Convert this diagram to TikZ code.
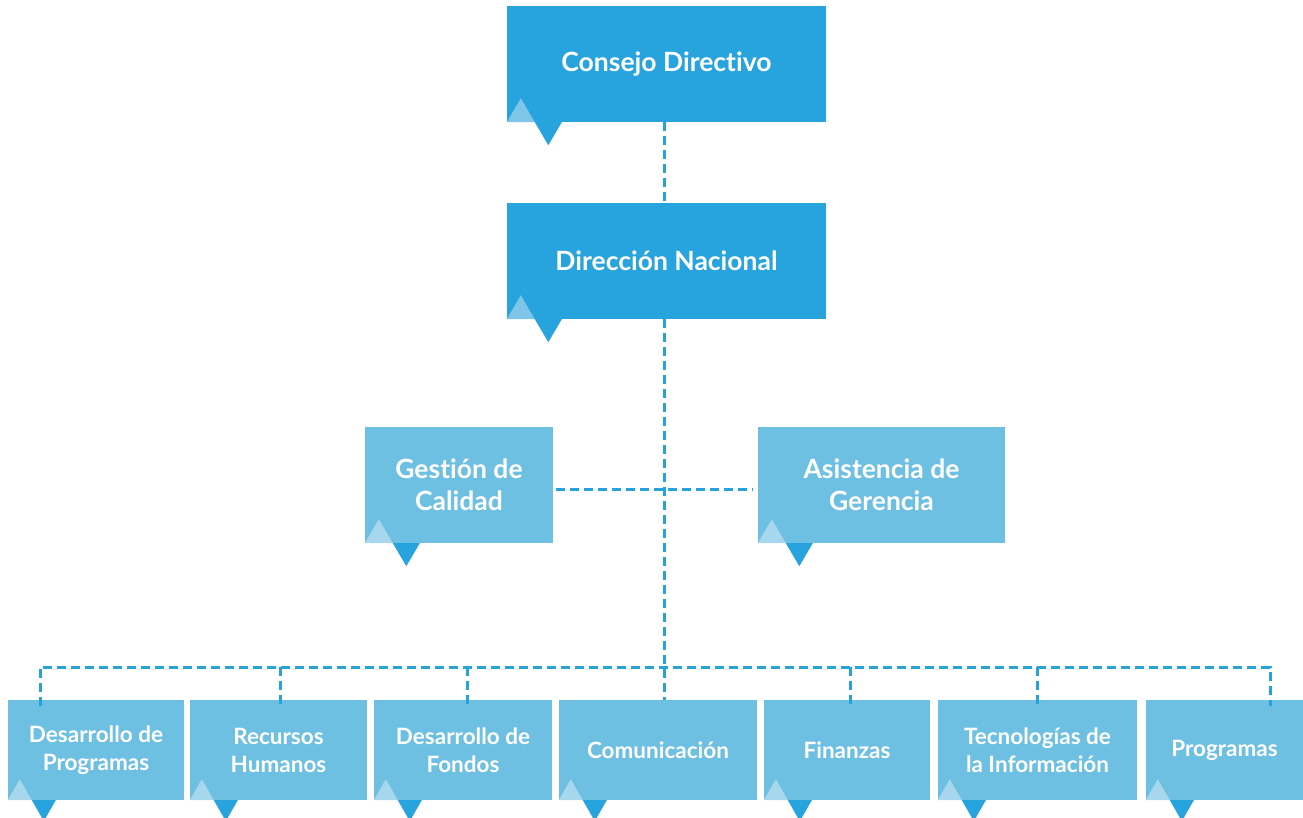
\documentclass[tikz,border=0pt]{standalone}
\usepackage{fontspec}
\setmainfont{Lato}[Ligatures=NoCommon]
\definecolor{dkblue}{HTML}{27A3DD}
\definecolor{ltblue}{HTML}{6EC0E3}
\definecolor{triondk}{HTML}{7DC6E8}
\definecolor{trionlt}{HTML}{A6D7EC}
\definecolor{linec}{HTML}{27A3DC}
\tikzset{
  darkbox/.style={fill=dkblue, inner sep=0pt, text=white, font=\bfseries\fontsize{26.5}{30}\selectfont, align=center},
  midbox/.style={fill=ltblue, inner sep=0pt, text=white, font=\bfseries\fontsize{26.5}{32}\selectfont, align=center},
  lowbox/.style={fill=ltblue, inner sep=0pt, text=white, font=\bfseries\fontsize{22.5}{28}\selectfont, align=center, minimum height=100},
  conn/.style={draw=linec, line width=3pt, dash pattern=on 9pt off 5pt}
}
% big tabs: #1 node, #2 light colour
\newcommand\bigtabs[2]{%
  \fill[#2] (#1.south west) -- ++(28,0) -- ++(-14,-24) -- cycle;
  \fill[dkblue] ([xshift=28]#1.south west) -- ++(27,0) -- ++(-13.5,23) -- cycle;}
\newcommand\smalltabs[1]{%
  \fill[trionlt] (#1.south west) -- ++(24,0) -- ++(-12,-21) -- cycle;
  \fill[dkblue] ([xshift=24]#1.south west) -- ++(24,0) -- ++(-12,21) -- cycle;}
\begin{document}
\begin{tikzpicture}[x=1pt,y=-1pt]
\useasboundingbox (0,0) rectangle (1303,818);
% boxes
\node[darkbox, minimum width=319, minimum height=116] (cd) at (666.5,64) {Consejo Directivo};
\node[darkbox, minimum width=319, minimum height=116] (dn) at (666.5,261) {Dirección Nacional};
\node[midbox, minimum width=188, minimum height=116] (gc) at (459,485) {Gestión de\\Calidad};
\node[midbox, minimum width=247, minimum height=116] (ag) at (881.5,485) {Asistencia de\\Gerencia};
\node[lowbox, minimum width=176] (b1) at (96,750) {Desarrollo de\\Programas};
\node[lowbox, minimum width=177] (b2) at (278.5,750) {Recursos\\Humanos};
\node[lowbox, minimum width=178] (b3) at (463,750) {Desarrollo de\\Fondos};
\node[lowbox, minimum width=198] (b4) at (658,750) {Comunicación};
\node[lowbox, minimum width=166] (b5) at (847,750) {Finanzas};
\node[lowbox, minimum width=199] (b6) at (1037.5,750) {Tecnologías de\\la Información};
\node[lowbox, minimum width=157] (b7) at (1224.5,750) {Programas};
% tabs
\bigtabs{cd}{triondk}
\bigtabs{dn}{triondk}
\bigtabs{gc}{trionlt}
\bigtabs{ag}{trionlt}
\smalltabs{b1}\smalltabs{b2}\smalltabs{b3}\smalltabs{b4}\smalltabs{b5}\smalltabs{b6}\smalltabs{b7}
% connectors
\coordinate (busL) at (40,667);
\coordinate (busR) at (1270,667);
\coordinate (busM) at (664,667);
\draw[conn] ([xshift=-2.5]cd.south) -- ([xshift=-2.5]dn.north);
\draw[conn] ([xshift=-2.5]dn.south) -- (b4.north -| busM);
\draw[conn] ([shift={(3,4)}]gc.east) -- ([shift={(-5,4)}]ag.west);
\draw[conn] ([yshift=-6]b1.north -| busL) -- (busL) -- (busR) -- ([yshift=-6]b7.north -| busR);
\coordinate (x2) at (280,667);
\coordinate (x3) at (467,667);
\coordinate (x5) at (850,667);
\coordinate (x6) at (1037,667);
\draw[conn] (x2) -- ([yshift=-6]b2.north -| x2);
\draw[conn] (x3) -- ([yshift=-6]b3.north -| x3);
\draw[conn] (x5) -- ([yshift=-6]b5.north -| x5);
\draw[conn] (x6) -- ([yshift=-6]b6.north -| x6);
\end{tikzpicture}
\end{document}
